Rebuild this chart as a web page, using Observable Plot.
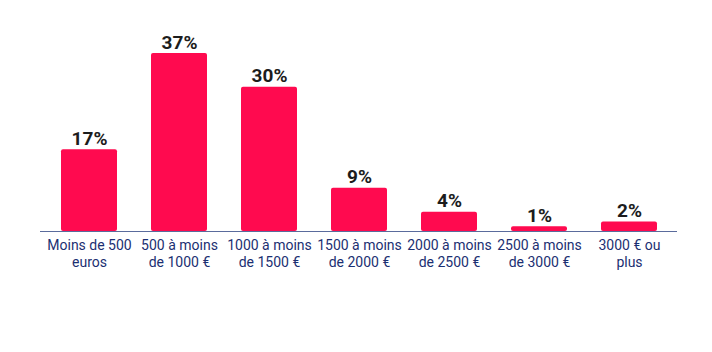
<!DOCTYPE html>
<html>
<head>
<meta charset="utf-8">
<script src="https://cdn.jsdelivr.net/npm/d3@7"></script>
<script src="https://cdn.jsdelivr.net/npm/@observablehq/plot@0.6"></script>
<style>
  html, body { margin: 0; padding: 0; background: #fff; }
  #chart svg { display: block; font-family: Roboto, "Noto Sans", sans-serif; }
</style>
</head>
<body>
<div id="chart"></div>
<script>
// Tranches de revenu mensuel et part des répondants (%)
const categories = [
  "Moins de 500\neuros",
  "500 à moins\nde 1000 €",
  "1000 à moins\nde 1500 €",
  "1500 à moins\nde 2000 €",
  "2000 à moins\nde 2500 €",
  "2500 à moins\nde 3000 €",
  "3000 € ou\nplus"
];
const values = [17, 37, 30, 9, 4, 1, 2];

const data = categories.map((c, i) => ({category: c, value: values[i]}));

const chart = Plot.plot({
  width: 712,
  height: 352,
  marginLeft: 40,
  marginRight: 35,
  marginTop: 38.6,
  marginBottom: 121,
  style: {fontFamily: "Roboto, 'Noto Sans', sans-serif", background: "#fff"},
  x: {domain: categories, paddingInner: 0.38, paddingOuter: 0.217, label: null},
  y: {domain: [0, 40], axis: null},
  marks: [
    Plot.barY(data, {x: "category", y: "value", fill: "#ff0a4f", rx: 2}),
    Plot.ruleY([0], {stroke: "#5a6b9c", strokeWidth: 1}),
    Plot.text(data, {
      x: "category", y: "value",
      text: d => `${d.value}%`,
      dy: -5, lineAnchor: "bottom",
      fontSize: 19, fontWeight: "bold", fill: "#1c1c1c"
    }),
    Plot.axisX({
      tickSize: 0, tickPadding: 6, fontSize: 14,
      lineHeight: 1.22, fill: "#1b2f72", label: null
    })
  ]
});
document.getElementById("chart").appendChild(chart);
</script>
</body>
</html>
